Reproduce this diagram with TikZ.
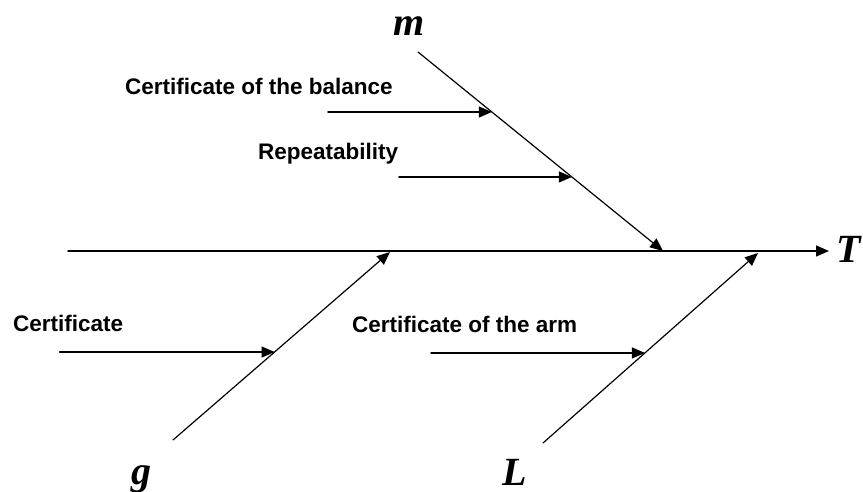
\documentclass[tikz,border=0pt]{standalone}
\usepackage{fontspec}
\setmainfont{Liberation Sans}
\newfontfamily\serifletter{Liberation Serif}
\usetikzlibrary{arrows.meta,calc}

\tikzset{
  cause/.style={font=\fontsize{22.5}{24}\selectfont\bfseries, inner sep=0pt},
  factor/.style={font=\fontsize{40}{44}\serifletter\bfseries\itshape, inner sep=0pt},
  bone/.style={line width=1.2pt, ->},
}

\begin{document}
\begin{tikzpicture}[line cap=round, >={Triangle[length=13pt,width=11pt]}, x=1pt, y=-1pt]
  \useasboundingbox (0,0) rectangle (863,492);
  % spine and main bones
  \coordinate (s0) at (68,251);
  \coordinate (s1) at (829,251);
  \coordinate (m0) at (418,52);
  \coordinate (m1) at (663,251);
  \coordinate (g0) at (173,440);
  \coordinate (g1) at (390,252);
  \coordinate (L0) at (543,443);
  \coordinate (L1) at (758,253);
  \draw[bone, line width=1.4pt] (s0) -- (s1);
  \draw[bone] (m0) -- (m1);
  \draw[bone] (g0) -- (g1);
  \draw[bone] (L0) -- (L1);
  \node[factor, anchor=base east] (T) at (861,262) {T};
  \node[factor, anchor=base] (m) at (409,36) {m};
  \node[factor, anchor=base] (g) at (141,484) {g};
  \node[factor, anchor=base] (L) at (515,485) {L};
  % causes
  \coordinate (bal1) at ($(m0)!0.3015!(m1)$);
  \coordinate (rep1) at ($(m0)!0.628!(m1)$);
  \coordinate (cer1) at ($(g0)!0.468!(g1)$);
  \coordinate (arm1) at ($(L0)!0.474!(L1)$);
  \coordinate (bal0) at ([xshift=-164pt]bal1);
  \coordinate (rep0) at ([xshift=-173pt]rep1);
  \coordinate (cer0) at ([xshift=-215pt]cer1);
  \coordinate (arm0) at ([xshift=-214pt]arm1);
  \draw[bone] (bal0) -- (bal1);
  \draw[bone] (rep0) -- (rep1);
  \draw[bone] (cer0) -- (cer1);
  \draw[bone] (arm0) -- (arm1);
  \node[cause, anchor=base west] (balance) at (125,95) {Certificate of the balance};
  \node[cause, anchor=base west] (repeat) at (258,160) {Repeatability};
  \node[cause, anchor=base west] (cert) at (13,331) {Certificate};
  \node[cause, anchor=base west] (arm) at (352,332) {Certificate of the arm};
\end{tikzpicture}
\end{document}
